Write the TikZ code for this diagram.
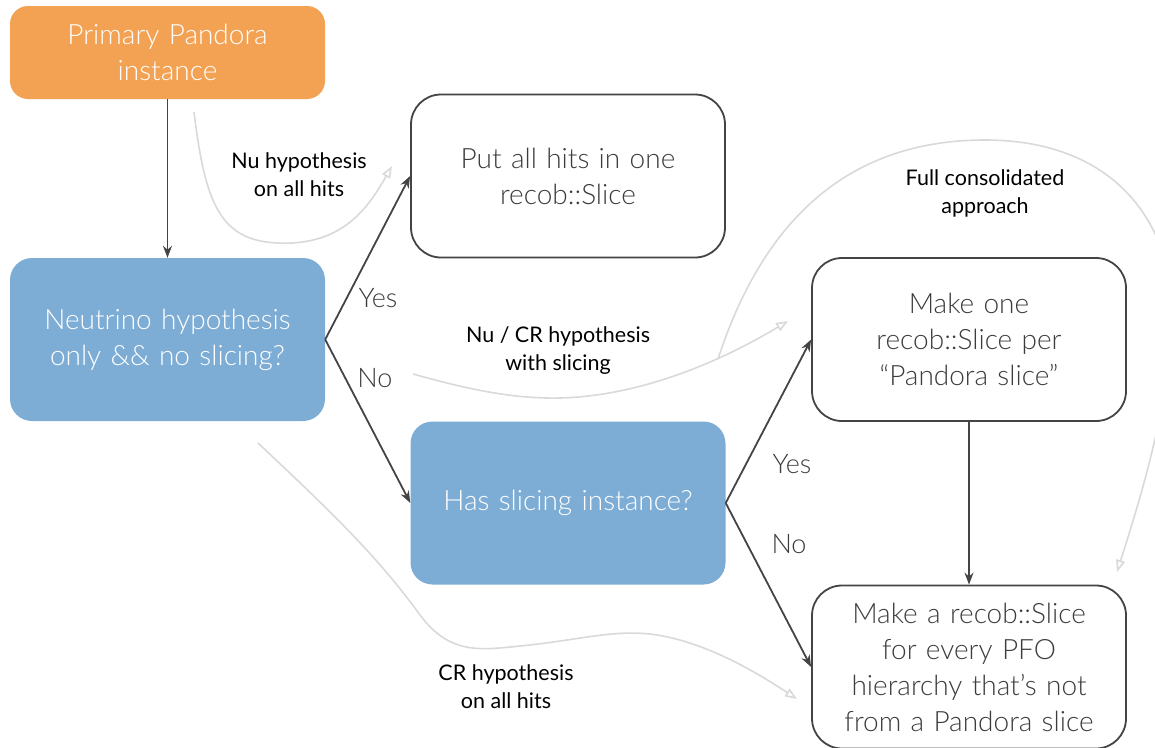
\documentclass[tikz,border=0pt]{standalone}
\usepackage{fontspec}
\setmainfont{Lato Light}
\newfontfamily\notefont{Lato}
\usetikzlibrary{arrows.meta, positioning, calc}
\definecolor{pandoraorange}{RGB}{243,162,83}
\definecolor{questionblue}{RGB}{125,173,213}
\definecolor{edgegray}{RGB}{68,68,68}
\definecolor{textgray}{RGB}{60,60,60}
\definecolor{hypogray}{RGB}{217,217,217}
\tikzset{
    primary/.style={rectangle, rounded corners=18pt, minimum width=315pt, minimum height=93pt, text width=305pt, align=center, fill=pandoraorange, text=white, font=\fontsize{28}{36}\selectfont},
    question/.style={rectangle, rounded corners=22pt, minimum width=315pt, minimum height=163pt, text width=305pt, align=center, fill=questionblue, text=white, font=\fontsize{28}{36}\selectfont},
    action/.style={rectangle, rounded corners=30pt, minimum width=314pt, minimum height=163pt, text width=305pt, align=center, draw=edgegray, line width=1.8pt, fill=white, text=textgray, font=\fontsize{28}{36}\selectfont},
    arrow/.style={edgegray, line width=1.8pt, -{Stealth[length=12pt, width=9pt]}},
    hypo/.style={hypogray, line width=1.6pt, -{Triangle[open, length=12pt, width=9pt]}},
    branch/.style={text=textgray, font=\fontsize{27}{30}\selectfont},
    note/.style={text=black, align=center, font=\notefont\fontsize{21.5}{28}\selectfont}
}
\begin{document}
\begin{tikzpicture}[x=1pt, y=-1pt]
        \useasboundingbox (0,0) rectangle (1155,747);

        % Boxes
        \node[primary] (primary) at (167.5,52.5) {Primary Pandora\\instance};
        \node[question] (nuonly) at (167.5,339.5) {Neutrino hypothesis\\only \&\& no slicing?};
        \node[action] (allhits) at (568,176) {Put all hits in one\\recob::Slice};
        \node[question] (hasslicing) at (568,503) {Has slicing instance?};
        \node[action] (perslice) at (969,339.5) {Make one\\recob::Slice per\\“Pandora slice”};
        \node[action] (perpfo) at (969,667) {Make a recob::Slice\\for every PFO\\hierarchy that’s not\\from a Pandora slice};

        % Decision arrows
        \draw[arrow] (primary) -- (nuonly);
        \draw[arrow] (nuonly.east) -- (allhits.west);
        \draw[arrow] (nuonly.east) -- (hasslicing.west);
        \draw[arrow] (hasslicing.east) -- (perslice.west);
        \draw[arrow] (hasslicing.east) -- (perpfo.west);
        \draw[arrow] (perslice) -- (perpfo);

        % Yes / No labels
        \node[branch] (yes1) at (378,298) {Yes};
        \node[branch] (no1) at (375,378) {No};
        \node[branch] (yes2) at (792,464) {Yes};
        \node[branch] (no2) at (789,544) {No};

        % Hypothesis paths
        \coordinate (nuhits) at (194,112);
        \coordinate (nuhitsend) at (392,166);
        \coordinate (nucr) at (413,374);
        \coordinate (nucrsplit) at (718,359);
        \coordinate (nucrend) at (788,321);
        \coordinate (fullend) at (1117,572);
        \coordinate (crhits) at (258,443);
        \coordinate (crhitsend) at (797,699);

        \draw[hypo] (nuhits) .. controls (206,210) and (222,246) .. (292,243) .. controls (345,240) and (368,208) .. (nuhitsend);
        \draw[hypo] (nucr) .. controls (470,390) and (515,399) .. (560,398) .. controls (640,396) and (720,362) .. (nucrend);
        \draw[hypo] (nucrsplit) .. controls (760,230) and (840,140) .. (985,140) .. controls (1120,140) and (1178,230) .. (1172,330) .. controls (1166,420) and (1135,515) .. (fullend);
        \draw[hypo] (crhits) .. controls (340,520) and (380,560) .. (420,615) .. controls (450,655) and (480,650) .. (520,646) .. controls (580,640) and (610,630) .. (650,634) .. controls (700,640) and (750,668) .. (crhitsend);

        % Hypothesis labels
        \node[note] (nuhitslabel) at (299,175) {Nu hypothesis\\on all hits};
        \node[note] (nucrlabel) at (558,351) {Nu / CR hypothesis\\with slicing};
        \node[note] (fulllabel) at (985,193) {Full consolidated\\approach};
        \node[note] (crhitslabel) at (506,687) {CR hypothesis\\on all hits};
    \end{tikzpicture}
\end{document}
